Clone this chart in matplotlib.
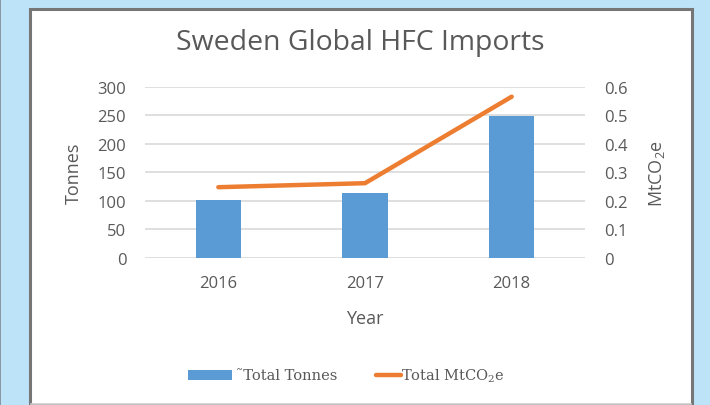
import matplotlib
matplotlib.use('Agg')
import matplotlib.pyplot as plt
from matplotlib.patches import Rectangle
from matplotlib.lines import Line2D
import numpy as np

plt.rcParams['font.family'] = ['Open Sans', 'DejaVu Sans']
plt.rcParams['mathtext.default'] = 'regular'

# --- data ---
years = ['2016', '2017', '2018']
tonnes = [102, 114, 249]
mtco2e = [0.248, 0.262, 0.565]
left_ticks = [0, 50, 100, 150, 200, 250, 300]
right_ticks = [0, 0.1, 0.2, 0.3, 0.4, 0.5, 0.6]
bar_label = '\u02dcTotal Tonnes'
line_label = 'Total MtCO$_2$e'

W, H = 710, 406
TEXT = '#595959'
BLUE = '#5b9bd5'
ORANGE = '#ed7d31'
GRID = '#d9d9d9'


def fx(px):
    return px / W


def fy(py):
    return 1 - py / H


fig = plt.figure(figsize=(W / 100, H / 100), dpi=100)
fig.patch.set_facecolor('#bde3f9')

# white panel with grey frame (behind the axes)
fig.patches.append(Rectangle((fx(30), 0), fx(692) - fx(30), fy(10),
                             transform=fig.transFigure, facecolor='white',
                             edgecolor='#767676', linewidth=2.2, zorder=-2))
fig.patches.append(Rectangle((0, 0), fx(1.5), 1, transform=fig.transFigure,
                             facecolor='#8a9aa5', edgecolor='none', zorder=-2))
fig.lines.append(Line2D([fx(31), fx(691)], [fy(405), fy(405)],
                        transform=fig.transFigure, color='#cfcfcf', lw=1.2,
                        zorder=-1))

ax = fig.add_axes([fx(145), fy(259), fx(585) - fx(145), (259 - 87.7) / H])
ax.set_facecolor('none')
x = np.arange(len(years))
ax.bar(x, tonnes, width=0.31, color=BLUE, zorder=2)
ax.set_xlim(-0.5, len(years) - 0.5)
ax.set_ylim(0, 300)
ax.set_yticks(left_ticks)
ax.set_xticks(x)
ax.set_xticklabels(years)
ax.yaxis.grid(True, color=GRID, linewidth=1.2, zorder=0)
ax.set_axisbelow(True)
for s in ax.spines.values():
    s.set_visible(False)
ax.tick_params(length=0, colors=TEXT, labelsize=12)
ax.tick_params(axis='y', pad=13.5)
ax.tick_params(axis='x', pad=12)
ax.set_ylabel('Tonnes', color=TEXT, fontsize=13)
ax.yaxis.set_label_coords(-0.141, 0.5)
ax.set_xlabel('Year', color=TEXT, fontsize=13)
ax.xaxis.set_label_coords(0.5, -0.3)

ax2 = ax.twinx()
ax2.plot(x, mtco2e, color=ORANGE, lw=3.2, solid_capstyle='round',
         solid_joinstyle='round', zorder=3)
ax2.set_ylim(0, 0.6)
ax2.set_yticks(right_ticks)
ax2.set_yticklabels(['0'] + [f'{v:.1f}' for v in right_ticks[1:]])
for s in ax2.spines.values():
    s.set_visible(False)
ax2.tick_params(length=0, colors=TEXT, labelsize=12, pad=13.5)
ax2.set_ylabel('MtCO$_2$e', color=TEXT, fontsize=13)
ax2.yaxis.set_label_coords(1.141, 0.5)

fig.text(fx(360), fy(50), 'Sweden Global HFC Imports', ha='center',
         va='baseline', fontsize=20.4, color=TEXT)

# legend drawn by hand to match the two different key widths
fig.patches.append(Rectangle((fx(188), fy(381)), fx(44), 10 / H,
                             transform=fig.transFigure, facecolor=BLUE,
                             edgecolor='none'))
fig.text(fx(236), fy(376), bar_label, va='center', ha='left', fontsize=10.5,
         color=TEXT, family='DejaVu Serif')
fig.lines.append(Line2D([fx(376), fx(401)], [fy(376), fy(376)],
                        transform=fig.transFigure, color=ORANGE, lw=3.2,
                        solid_capstyle='round'))
fig.text(fx(401), fy(376), line_label, va='center', ha='left', fontsize=10.5,
         color=TEXT, family='DejaVu Serif')

fig.savefig('out.png', dpi=100)
